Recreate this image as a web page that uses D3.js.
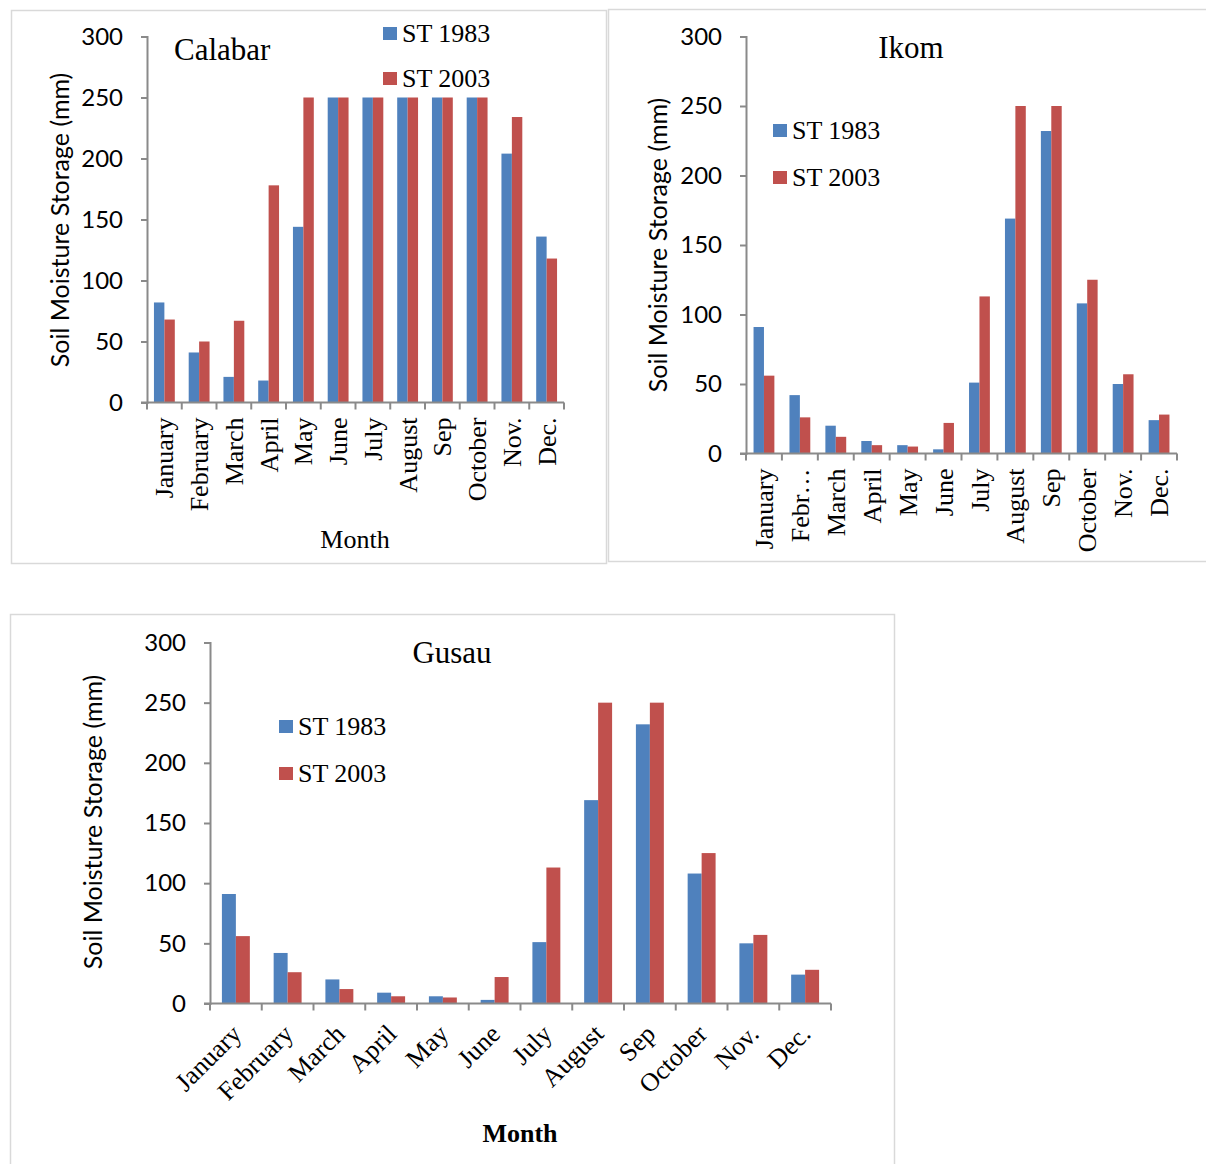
<!DOCTYPE html>
<html>
<head>
<meta charset="utf-8">
<script src="https://cdn.jsdelivr.net/npm/d3@7"></script>
<style>
  html, body { margin: 0; padding: 0; background: #fff; }
  svg { display: block; }
</style>
</head>
<body>
<div id="chart"></div>
<script>
// Monthly soil moisture storage (mm) for three stations, 1983 vs 2003
const seriesNames = ["ST 1983", "ST 2003"];
const yTicks = [0, 50, 100, 150, 200, 250, 300];

const calabarMonths = ["January", "February", "March", "April", "May", "June",
  "July", "August", "Sep", "October", "Nov.", "Dec."];
const calabar1983 = [82, 41, 21, 18, 144, 250, 250, 250, 250, 250, 204, 136];
const calabar2003 = [68, 50, 67, 178, 250, 250, 250, 250, 250, 250, 234, 118];

const ikomMonths = ["January", "Febr…", "March", "April", "May", "June",
  "July", "August", "Sep", "October", "Nov.", "Dec."];
const ikom1983 = [91, 42, 20, 9, 6, 3, 51, 169, 232, 108, 50, 24];
const ikom2003 = [56, 26, 12, 6, 5, 22, 113, 250, 250, 125, 57, 28];

const gusauMonths = ["January", "February", "March", "April", "May", "June",
  "July", "August", "Sep", "October", "Nov.", "Dec."];
const gusau1983 = [91, 42, 20, 9, 6, 3, 51, 169, 232, 108, 50, 24];
const gusau2003 = [56, 26, 12, 6, 5, 22, 113, 250, 250, 125, 57, 28];

const colors = ["#4F81BD", "#C0504D"];
const axisColor = "#8a8a8a";
const serif = "'Liberation Serif', 'Times New Roman', serif";
const sans = "Lato, 'Open Sans', sans-serif";

const svg = d3.select("#chart").append("svg")
  .attr("width", 1206).attr("height", 1164);

function drawPanel(p) {
  const g = svg.append("g");

  // frame
  g.append("rect")
    .attr("x", p.box[0] + 0.5).attr("y", p.box[1] + 0.5)
    .attr("width", p.box[2]).attr("height", p.box[3])
    .attr("fill", "#fff").attr("stroke", "#d9d9d9").attr("stroke-width", 1.5);

  const x = d3.scaleBand().domain(p.months).range([p.left, p.right]).padding(0);
  const y = d3.scaleLinear().domain([0, 300]).range([p.bottom, p.top]);
  const inner = d3.scaleBand().domain(seriesNames)
    .range([x.bandwidth() * p.barStart, x.bandwidth() * (1 - p.barStart)]);

  // bars
  const rows = p.months.map((m, i) => ({ m, v: [p.s1[i], p.s2[i]] }));
  const grp = g.selectAll("g.month").data(rows).join("g")
    .attr("transform", d => `translate(${x(d.m)},0)`);
  grp.selectAll("rect").data(d => d.v.map((v, k) => ({ k, v }))).join("rect")
    .attr("x", d => inner(seriesNames[d.k]))
    .attr("width", inner.bandwidth())
    .attr("y", d => y(d.v))
    .attr("height", d => y(0) - y(d.v))
    .attr("fill", d => colors[d.k]);

  // y axis
  const yAxis = d3.axisLeft(y).tickValues(yTicks).tickSize(6).tickPadding(18);
  const ya = g.append("g").attr("transform", `translate(${p.left},0)`).call(yAxis);
  ya.select(".domain").attr("stroke", axisColor).attr("stroke-width", 2);
  ya.selectAll(".tick line").attr("stroke", axisColor).attr("stroke-width", 2);
  ya.selectAll(".tick text").attr("font-family", sans).attr("font-size", 24)
    .attr("fill", "#000");

  // x axis: ticks at category boundaries
  const xa = g.append("g").attr("transform", `translate(0,${p.bottom})`);
  xa.append("line").attr("x1", p.left - 6).attr("x2", p.right)
    .attr("stroke", axisColor).attr("stroke-width", 2);
  const bounds = p.months.map(m => x(m)).concat([p.right]);
  xa.selectAll("line.tk").data(bounds).join("line").attr("class", "tk")
    .attr("x1", d => d).attr("x2", d => d).attr("y1", 0).attr("y2", 7)
    .attr("stroke", axisColor).attr("stroke-width", 2);

  // category labels
  const cx = m => x(m) + x.bandwidth() / 2;
  if (p.rotate === -90) {
    xa.selectAll("text").data(p.months).join("text")
      .attr("transform", m => `translate(${cx(m)},${p.labelGap}) rotate(-90)`)
      .attr("dy", "0.35em").attr("text-anchor", "end")
      .attr("font-family", serif).attr("font-size", 26).attr("fill", "#000")
      .text(m => m);
  } else {
    xa.selectAll("text").data(p.months).join("text")
      .attr("transform", m => `translate(${cx(m) + 7},${p.labelGap}) rotate(-45)`)
      .attr("text-anchor", "end")
      .attr("font-family", serif).attr("font-size", 26).attr("fill", "#000")
      .text(m => m);
  }

  // y axis title
  g.append("text")
    .attr("transform", `translate(${p.yTitle[0]},${p.yTitle[1]}) rotate(-90)`)
    .attr("dy", "0.35em").attr("text-anchor", "middle")
    .attr("font-family", sans).attr("font-size", 25).attr("fill", "#000")
    .text("Soil Moisture Storage (mm)");

  // x axis title
  if (p.xTitle) {
    g.append("text")
      .attr("x", p.xTitle[0]).attr("y", p.xTitle[1])
      .attr("text-anchor", "middle")
      .attr("font-family", serif).attr("font-size", 26)
      .attr("font-weight", p.xTitleBold ? "bold" : "normal").attr("fill", "#000")
      .text("Month");
  }

  // station name
  g.append("text")
    .attr("x", p.title[0]).attr("y", p.title[1])
    .attr("text-anchor", p.titleAnchor)
    .attr("font-family", serif).attr("font-size", 31).attr("fill", "#000")
    .text(p.name);

  // legend
  const lg = g.append("g").attr("transform", `translate(${p.legend[0]},${p.legend[1]})`);
  seriesNames.forEach((s, k) => {
    lg.append("rect").attr("x", 0).attr("y", k * p.legendStep)
      .attr("width", 14).attr("height", 13).attr("fill", colors[k]);
    lg.append("text").attr("x", 19).attr("y", k * p.legendStep + 15)
      .attr("font-family", serif).attr("font-size", 26).attr("fill", "#000")
      .text(s);
  });
}

drawPanel({
  name: "Calabar", months: calabarMonths, s1: calabar1983, s2: calabar2003,
  box: [11, 10, 595, 553], left: 147, right: 564, top: 36.5, bottom: 402.5,
  barStart: 0.2, rotate: -90, labelGap: 15,
  yTitle: [60, 220], xTitle: [355, 548], xTitleBold: false,
  title: [174, 60], titleAnchor: "start",
  legend: [383, 27], legendStep: 45
});

drawPanel({
  name: "Ikom", months: ikomMonths, s1: ikom1983, s2: ikom2003,
  box: [608, 9, 620, 552], left: 746, right: 1177, top: 36.5, bottom: 453.5,
  barStart: 0.21, rotate: -90, labelGap: 15,
  yTitle: [658, 245], xTitle: null,
  title: [911, 58], titleAnchor: "middle",
  legend: [773, 124], legendStep: 47
});

drawPanel({
  name: "Gusau", months: gusauMonths, s1: gusau1983, s2: gusau2003,
  box: [10, 614, 884, 560], left: 210, right: 831, top: 642.5, bottom: 1003.5,
  barStart: 0.23, rotate: -45, labelGap: 32,
  yTitle: [93, 822], xTitle: [520, 1142], xTitleBold: true,
  title: [452, 663], titleAnchor: "middle",
  legend: [279, 720], legendStep: 47
});
</script>
</body>
</html>
